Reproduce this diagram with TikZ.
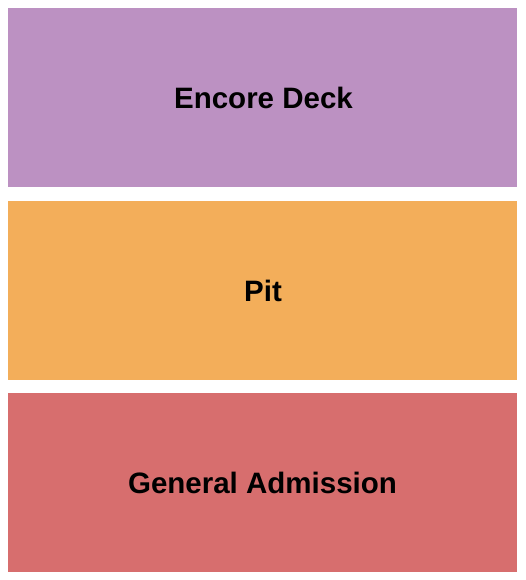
\documentclass[tikz,border=0pt]{standalone}
\usepackage{fontspec}
\setmainfont{Liberation Sans}
\definecolor{encore}{HTML}{BC91C2}
\definecolor{pit}{HTML}{F3AE5A}
\definecolor{ga}{HTML}{D76E6E}
\begin{document}
\begin{tikzpicture}[x=1pt,y=-1pt,
  sect/.style={inner sep=0pt, outer sep=0pt},
  lbl/.style={font=\fontsize{29.5}{34}\selectfont\bfseries, text=black}]
\useasboundingbox (0,0) rectangle (525,580);
\fill[encore] (8,8) rectangle (517,187);
\fill[pit] (8,201) rectangle (517,380);
\fill[ga] (8,393) rectangle (517,572);
\node[lbl] (encore) at (263.5,97.5) {Encore Deck};
\node[lbl] (pitl) at (263,290.5) {Pit};
\node[lbl] (gal) at (262.5,482.5) {General Admission};
\end{tikzpicture}
\end{document}
